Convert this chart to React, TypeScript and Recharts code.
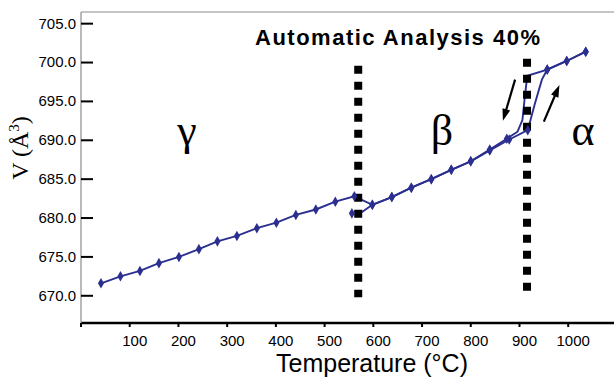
import React from 'react';
import {
  ComposedChart,
  Line,
  Scatter,
  XAxis,
  YAxis,
  ZAxis,
  ReferenceLine
} from 'recharts';

// heating run: measured points (diamonds)
const heatT = [41, 81, 121, 160, 201, 242, 280, 320, 361, 401, 441, 482, 522, 561, 598, 638, 678, 719, 760, 800, 839, 879, 917, 957, 997, 1036];
const heatV = [671.6, 672.5, 673.2, 674.2, 675.0, 676.0, 677.0, 677.7, 678.7, 679.4, 680.4, 681.1, 682.1, 682.8, 681.7, 682.7, 683.9, 685.0, 686.2, 687.3, 688.7, 690.1, 691.3, 699.1, 700.2, 701.4];
// heating run: trace points without marker (steep β→α rise)
const heatTraceT = [932, 946];
const heatTraceV = [694.8, 697.8];

// cooling run: measured points
const coolT = [1036, 997, 957, 874, 839, 800, 760, 719, 678, 638, 598, 556];
const coolV = [701.4, 700.2, 699.1, 690.2, 688.8, 687.3, 686.2, 685.0, 683.9, 682.7, 681.7, 680.6];
// cooling run: trace points without marker
const coolTraceT = [916, 911, 906, 896, 573];
const coolTraceV = [698.3, 695.6, 692.6, 691.1, 680.6];

const xTicks = [0, 100, 200, 300, 400, 500, 600, 700, 800, 900, 1000];
const yTicks = [670, 675, 680, 685, 690, 695, 700, 705];

// phase boundaries (dotted lines) and hysteresis arrows, in data units
const boundaries = [
  { t: 569, top: 699.6, bottom: 669.8 },
  { t: 915.5, top: 700.5, bottom: 670.5 }
];
const arrows = [
  { t1: 891, v1: 697.8, t2: 866, v2: 692.5 },
  { t1: 950, v1: 692.4, t2: 982, v2: 697.1 }
];

const toPoints = (ts: number[], vs: number[]) => ts.map((t, i) => ({ t, v: vs[i] }));

const heatMarks = toPoints(heatT, heatV);
const coolMarks = toPoints(coolT, coolV);
const heatPath = [...heatMarks, ...toPoints(heatTraceT, heatTraceV)].sort((a, b) => a.t - b.t);
const coolPath = [...coolMarks, ...toPoints(coolTraceT, coolTraceV)].sort((a, b) => b.t - a.t);

const NAVY = '#2b2f8f';
const SANS = '"Liberation Sans", Arial, sans-serif';
const SERIF = '"Liberation Serif", "Times New Roman", serif';

const YTick = (props: any) => {
  const { x, y, payload } = props;
  return (
    <g>
      <line x1={x + 5} x2={x + 17} y1={y} y2={y} stroke="#000" strokeWidth={2} />
      <text x={x} y={y} dy="0.33em" textAnchor="end" fontSize={15} fontFamily={SANS} fill="#000">
        {Number(payload.value).toFixed(1)}
      </text>
    </g>
  );
};

const Arrow = (props: any) => {
  const { x1, y1, x2, y2 } = props;
  const dx = x2 - x1;
  const dy = y2 - y1;
  const len = Math.sqrt(dx * dx + dy * dy) || 1;
  const ux = dx / len;
  const uy = dy / len;
  const head = 12;
  const half = 4;
  const bx = x2 - ux * head;
  const by = y2 - uy * head;
  return (
    <g>
      <line x1={x1} y1={y1} x2={bx + ux * 2} y2={by + uy * 2} stroke="#000" strokeWidth={2.2} />
      <polygon
        points={`${x2},${y2} ${bx - uy * half},${by + ux * half} ${bx + uy * half},${by - ux * half}`}
        fill="#000"
      />
    </g>
  );
};

export default function App() {
  return (
    <div style={{ position: 'absolute', left: 0, top: 0, width: 614, height: 378, background: '#fff' }}>
      <ComposedChart width={614} height={378} margin={{ top: 12, right: 0, bottom: 0, left: 0 }}>
        <XAxis
          type="number"
          dataKey="t"
          domain={[0, 1094]}
          ticks={xTicks}
          allowDataOverflow
          tickFormatter={(v: number) => (v === 0 ? '' : String(v))}
          axisLine={{ stroke: '#000', strokeWidth: 2.5 }}
          tickLine={{ stroke: '#000', strokeWidth: 2 }}
          tickSize={4}
          tickMargin={8}
          height={55}
          tick={{ fontSize: 15, fill: '#000', fontFamily: SANS, dx: 5 }}
        />
        <YAxis
          type="number"
          dataKey="v"
          domain={[666.5, 706.5]}
          ticks={yTicks}
          allowDataOverflow
          width={81}
          axisLine={{ stroke: '#8c8c8c', strokeWidth: 1.2 }}
          tickLine={false}
          tickSize={5}
          tickMargin={0}
          tick={<YTick />}
        />
        <ZAxis range={[32, 32]} />
        <ReferenceLine y={706.5} stroke="#8c8c8c" strokeWidth={1.2} />

        <Line data={heatPath} dataKey="v" stroke={NAVY} strokeWidth={1.9} dot={false} activeDot={false} isAnimationActive={false} />
        <Line data={coolPath} dataKey="v" stroke={NAVY} strokeWidth={1.9} dot={false} activeDot={false} isAnimationActive={false} />
        <Scatter data={heatMarks} dataKey="v" shape="diamond" fill={NAVY} isAnimationActive={false} />
        <Scatter data={coolMarks} dataKey="v" shape="diamond" fill={NAVY} isAnimationActive={false} />

        {boundaries.map((b) => (
          <ReferenceLine
            key={b.t}
            segment={[{ x: b.t, y: b.top }, { x: b.t, y: b.bottom }]}
            stroke="#000"
            strokeWidth={8}
            strokeDasharray="8 8"
          />
        ))}
        {arrows.map((a, i) => (
          <ReferenceLine
            key={'arrow' + i}
            segment={[{ x: a.t1, y: a.v1 }, { x: a.t2, y: a.v2 }]}
            shape={<Arrow />}
          />
        ))}

        <text x={255} y={45} fontSize={22} fontWeight="bold" letterSpacing={1.5} fontFamily={SANS} fill="#000">
          Automatic Analysis 40%
        </text>
        <text x={187} y={145} textAnchor="middle" fontSize={44} fontFamily={SERIF} fill="#000">γ</text>
        <text x={442} y={145} textAnchor="middle" fontSize={44} fontFamily={SERIF} fill="#000">β</text>
        <text x={583} y={145} textAnchor="middle" fontSize={44} fontFamily={SERIF} fill="#000">α</text>
        <text x={372} y={372} textAnchor="middle" fontSize={25} fontFamily={SANS} fill="#000">
          Temperature (°C)
        </text>
        <text transform="rotate(-90)" x={-148} y={28} textAnchor="middle" fontSize={24} fontFamily={SERIF} fill="#000">
          V (Å<tspan dy={-9} fontSize={15}>3</tspan>
          <tspan dy={9}>)</tspan>
        </text>
      </ComposedChart>
    </div>
  );
}
